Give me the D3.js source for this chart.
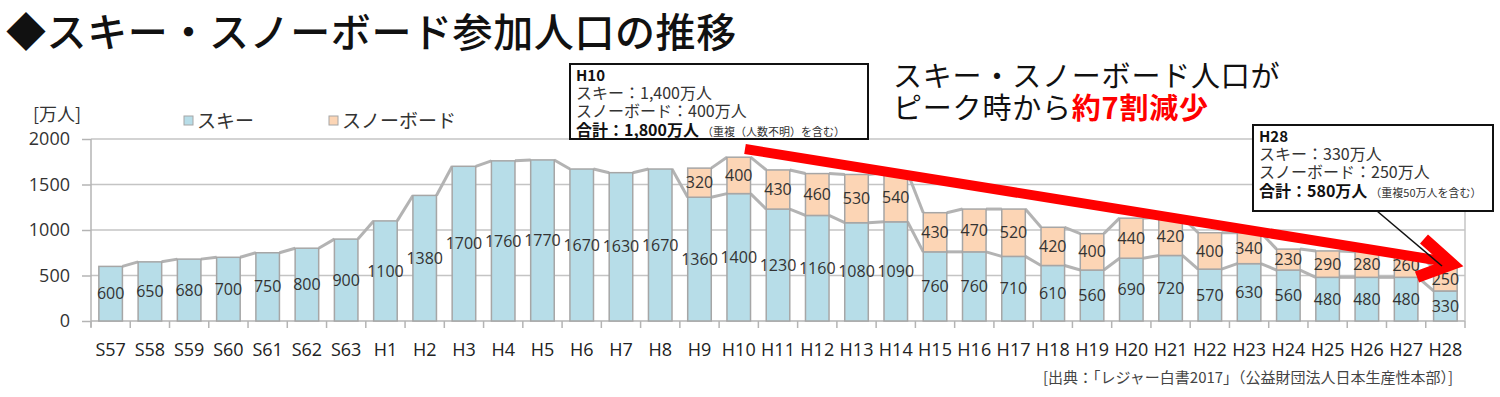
<!DOCTYPE html>
<html>
<head>
<meta charset="utf-8">
<script src="https://cdn.jsdelivr.net/npm/d3@7"></script>
<style>
  body { margin: 0; background: #fff; }
  svg { font-family: "Noto Sans CJK JP", "Noto Sans", sans-serif; }
</style>
</head>
<body>
<script>
// categories (Showa 57 .. Heisei 28)
const years = ["S57","S58","S59","S60","S61","S62","S63","H1","H2","H3","H4","H5","H6","H7","H8","H9","H10",
  "H11","H12","H13","H14","H15","H16","H17","H18","H19","H20","H21","H22","H23","H24","H25","H26","H27","H28"];
// ski population (10k people)
const ski = [600,650,680,700,750,800,900,1100,1380,1700,1760,1770,1670,1630,1670,1360,1400,
  1230,1160,1080,1090,760,760,710,610,560,690,720,570,630,560,480,480,480,330];
// snowboard population, none before H9
const snow = [null,null,null,null,null,null,null,null,null,null,null,null,null,null,null,320,400,
  430,460,530,540,430,470,520,420,400,440,420,400,340,230,290,280,260,250];
const yTicks = [0, 500, 1000, 1500, 2000];

const W = 1500, H = 397;
const plotL = 91, plotR = 1465, plotT = 139, plotB = 321;

const svg = d3.select("body").append("svg")
  .attr("width", W)
  .attr("height", H);

const x = d3.scaleBand()
  .domain(years)
  .range([plotL, plotR])
  .paddingInner(0.4)
  .paddingOuter(0.2);

const y = d3.scaleLinear()
  .domain([0, 2000])
  .range([plotB, plotT]);

const rows = years.map((yr, i) => ({yr: yr, ski: ski[i], snow: snow[i]}));

// gridlines
svg.append("g")
  .selectAll("line")
  .data(yTicks.filter(d => d > 0))
  .enter().append("line")
  .attr("x1", plotL).attr("x2", plotR)
  .attr("y1", d => y(d)).attr("y2", d => y(d))
  .attr("stroke", "#c4c4c4")
  .attr("stroke-width", 1.5);

// y axis
const yAxis = d3.axisLeft(y).tickValues(yTicks).tickFormat(d3.format("d")).tickSize(9).tickPadding(12);
const gy = svg.append("g")
  .attr("transform", `translate(${plotL},0)`)
  .call(yAxis);
gy.select(".domain").attr("stroke", "#b4b4b4").attr("stroke-width", 1.5).attr("d", `M0,${plotB + 6}V${plotT}`);
gy.selectAll(".tick line").attr("stroke", "#b4b4b4").attr("stroke-width", 1.5);
gy.selectAll(".tick text").attr("font-size", 18).attr("fill", "#333").attr("font-family", "Open Sans, sans-serif");

// x axis baseline + ticks at band boundaries
svg.append("line")
  .attr("x1", plotL).attr("x2", plotR)
  .attr("y1", plotB).attr("y2", plotB)
  .attr("stroke", "#b4b4b4").attr("stroke-width", 1.5);
const edges = d3.range(years.length + 1).map(i => plotL + i * x.step());
svg.append("g")
  .selectAll("line")
  .data(edges)
  .enter().append("line")
  .attr("x1", d => d).attr("x2", d => d)
  .attr("y1", plotB).attr("y2", plotB + 7)
  .attr("stroke", "#b4b4b4").attr("stroke-width", 1.5);
svg.append("line")
  .attr("x1", plotR).attr("x2", plotR)
  .attr("y1", plotT).attr("y2", plotB)
  .attr("stroke", "#c4c4c4").attr("stroke-width", 1.5);

svg.append("g")
  .selectAll("text")
  .data(years)
  .enter().append("text")
  .attr("x", d => x(d) + x.bandwidth() / 2)
  .attr("y", 350)
  .attr("dy", "0.35em")
  .attr("text-anchor", "middle")
  .attr("font-size", 18)
  .attr("font-family", "Open Sans, sans-serif")
  .attr("fill", "#222")
  .text(d => d);

// series lines (Excel style, joining bar tops)
const lineCol = "#b3b3b3";
const segs = [];
for (let i = 0; i < rows.length - 1; i++) {
  const a = rows[i], b = rows[i + 1];
  segs.push({x1: x(a.yr) + x.bandwidth(), y1: y(a.ski), x2: x(b.yr), y2: y(b.ski)});
  if (a.snow != null && b.snow != null) {
    segs.push({x1: x(a.yr) + x.bandwidth(), y1: y(a.ski + a.snow), x2: x(b.yr), y2: y(b.ski + b.snow)});
  }
}
svg.append("g")
  .selectAll("line")
  .data(segs)
  .enter().append("line")
  .attr("x1", d => d.x1).attr("y1", d => d.y1)
  .attr("x2", d => d.x2).attr("y2", d => d.y2)
  .attr("stroke", lineCol)
  .attr("stroke-width", 3);

// bars
const skiCol = "#b7dde8", snowCol = "#fcd5b5", barStroke = "#a6a6a6";
svg.append("g")
  .selectAll("rect")
  .data(rows)
  .enter().append("rect")
  .attr("x", d => x(d.yr))
  .attr("y", d => y(d.ski))
  .attr("width", x.bandwidth())
  .attr("height", d => y(0) - y(d.ski))
  .attr("fill", skiCol)
  .attr("stroke", barStroke)
  .attr("stroke-width", 1.5);

svg.append("g")
  .selectAll("rect")
  .data(rows.filter(d => d.snow != null))
  .enter().append("rect")
  .attr("x", d => x(d.yr))
  .attr("y", d => y(d.ski + d.snow))
  .attr("width", x.bandwidth())
  .attr("height", d => y(d.ski) - y(d.ski + d.snow))
  .attr("fill", snowCol)
  .attr("stroke", barStroke)
  .attr("stroke-width", 1.5);

// data labels
const lab = svg.append("g")
  .attr("font-size", 16)
  .attr("font-family", "Open Sans, sans-serif")
  .attr("fill", "#333")
  .attr("text-anchor", "middle");
lab.selectAll(".ls")
  .data(rows)
  .enter().append("text")
  .attr("x", d => x(d.yr) + x.bandwidth() / 2)
  .attr("y", d => y(d.ski / 2))
  .attr("dy", "0.35em")
  .text(d => d.ski);
lab.selectAll(".lb")
  .data(rows.filter(d => d.snow != null))
  .enter().append("text")
  .attr("x", d => x(d.yr) + x.bandwidth() / 2)
  .attr("y", d => y(d.ski + d.snow / 2))
  .attr("dy", "0.35em")
  .text(d => d.snow);

// title
svg.append("text")
  .attr("x", 6).attr("y", 47)
  .attr("font-size", 40)
  .attr("font-weight", 500)
  .attr("letter-spacing", 0.6)
  .attr("fill", "#111")
  .text("◆スキー・スノーボード参加人口の推移");

// unit + legend
svg.append("text")
  .attr("x", 33).attr("y", 115).attr("dy", "0.35em")
  .attr("font-size", 18).attr("fill", "#333")
  .text("[万人]");
const legend = [{name: "スキー", col: skiCol, x: 184}, {name: "スノーボード", col: snowCol, x: 329}];
const lg = svg.append("g").selectAll("g").data(legend).enter().append("g");
lg.append("rect")
  .attr("x", d => d.x).attr("y", 116)
  .attr("width", 9).attr("height", 9)
  .attr("fill", d => d.col)
  .attr("stroke", barStroke);
lg.append("text")
  .attr("x", d => d.x + 13).attr("y", 121).attr("dy", "0.35em")
  .attr("font-size", 19).attr("fill", "#333")
  .text(d => d.name);

// source
svg.append("text")
  .attr("x", 1043).attr("y", 378).attr("dy", "0.35em")
  .attr("font-size", 15).attr("fill", "#444")
  .text("[出典：「レジャー白書2017」（公益財団法人日本生産性本部）]");

// red arrow
const arrow = svg.append("g").attr("stroke", "#ff0000").attr("fill", "none");
arrow.append("line")
  .attr("x1", 745).attr("y1", 149)
  .attr("x2", 1448).attr("y2", 262)
  .attr("stroke-width", 10);
arrow.append("polyline")
  .attr("points", "1424,239 1452,264 1417,277")
  .attr("stroke-width", 12)
  .attr("stroke-linejoin", "miter");

// callout pointer for H28
svg.append("line")
  .attr("x1", 1377).attr("y1", 211)
  .attr("x2", 1442).attr("y2", 266)
  .attr("stroke", "#111").attr("stroke-width", 1.5);

// annotation boxes
function box(bx, by, bw, bh, head, l1, l2, total, note) {
  const g = svg.append("g");
  g.append("rect")
    .attr("x", bx).attr("y", by)
    .attr("width", bw).attr("height", bh)
    .attr("fill", "#fff").attr("stroke", "#111").attr("stroke-width", 2);
  const tx = bx + 6;
  g.append("text").attr("x", tx).attr("y", by + 17)
    .attr("font-size", 15).attr("font-weight", 700).attr("fill", "#111").text(head);
  g.append("text").attr("x", tx).attr("y", by + 35)
    .attr("font-size", 16).attr("fill", "#333").text(l1);
  g.append("text").attr("x", tx).attr("y", by + 53)
    .attr("font-size", 16).attr("fill", "#333").text(l2);
  const t = g.append("text").attr("x", tx).attr("y", by + 72).attr("fill", "#111");
  t.append("tspan").attr("font-size", 16).attr("font-weight", 700).text(total);
  t.append("tspan").attr("font-size", 11).attr("fill", "#333").attr("dx", 3).text(note);
}
box(570, 64, 298, 75, "H10", "スキー：1,400万人", "スノーボード：400万人", "合計：1,800万人", "（重複（人数不明）を含む）");
box(1253, 125, 240, 86, "H28", "スキー：330万人", "スノーボード：250万人", "合計：580万人", "（重複50万人を含む）");

// headline
const hl = svg.append("g").attr("font-size", 29).attr("fill", "#111");
hl.append("text").attr("x", 893).attr("y", 87).attr("letter-spacing", 0.8).text("スキー・スノーボード人口が");
const hl2 = hl.append("text").attr("x", 893).attr("y", 119).attr("letter-spacing", 0.8);
hl2.append("tspan").text("ピーク時から");
hl2.append("tspan").attr("fill", "#ff0000").attr("font-weight", 700).text("約7割減少");
</script>
</body>
</html>
